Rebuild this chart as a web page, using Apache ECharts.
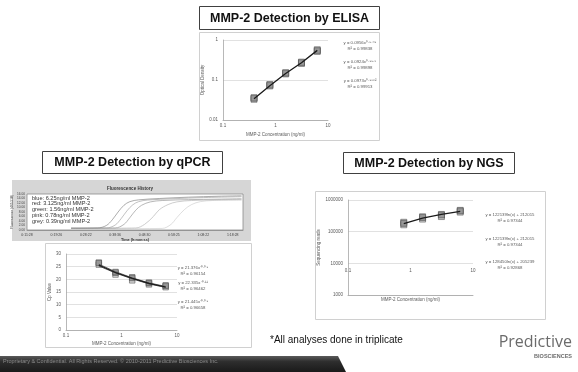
<!DOCTYPE html>
<html>
<head>
<meta charset="utf-8">
<script src="https://cdn.jsdelivr.net/npm/echarts@6/dist/echarts.min.js"></script>
<style>
  html, body { margin: 0; padding: 0; background: #fff; }
  #chart { width: 578px; height: 372px; }
</style>
</head>
<body>
<div id="chart"></div>
<script>
// concentrations of the MMP-2 dilution series (ng/ml)
const concentrations = [0.39, 0.78, 1.56, 3.125, 6.25];
const ngsConcentrations = [0.78, 1.56, 3.125, 6.25];

// ELISA optical density, three replicates + trendline
const elisaRep1 = [0.035, 0.074, 0.148, 0.27, 0.54];
const elisaRep2 = [0.033, 0.071, 0.142, 0.26, 0.52];
const elisaRep3 = [0.036, 0.077, 0.152, 0.28, 0.57];
const elisaTrend = [0.034, 0.072, 0.146, 0.27, 0.55];

// qPCR Cp values
const cpRep1 = [26.4, 22.9, 20.5, 18.5, 17.4];
const cpRep2 = [25.8, 21.9, 19.6, 18.0, 16.9];
const cpRep3 = [26.6, 22.6, 20.8, 18.7, 17.6];
const cpTrendA = [26.0, 23.0, 20.6, 18.6, 17.2];
const cpTrendB = [25.3, 22.5, 20.2, 18.2, 16.8];
const cpTrendC = [25.7, 22.7, 20.4, 18.4, 17.0];

// NGS sequencing reads
const ngsRep1 = [182000, 278000, 335000, 450000];
const ngsRep2 = [165000, 250000, 300000, 415000];
const ngsRep3 = [198000, 295000, 350000, 470000];
const ngsTrend = [180000, 268000, 350000, 440000];

// qPCR amplification curves: [time step, fluorescence]
const ampBlue = [[1.5, 0.8], [2.4, 0.9], [2.7, 2.0], [2.9, 4.5], [3.1, 8], [3.3, 11], [3.5, 12.6], [3.8, 13.4], [4.5, 14.0], [5.5, 14.6], [6.5, 15.0], [7.3, 15.2]];
const ampRed = [[1.5, 0.8], [2.7, 0.9], [3.0, 2.2], [3.2, 5], [3.4, 8.5], [3.6, 11.2], [3.8, 12.6], [4.1, 13.3], [5.0, 13.9], [6.0, 14.4], [7.3, 14.8]];
const ampGreen = [[1.5, 0.8], [3.0, 0.9], [3.3, 2.5], [3.5, 5.5], [3.7, 8.8], [3.9, 11], [4.2, 12.5], [4.6, 13.1], [5.5, 13.5], [6.5, 13.7], [7.3, 13.9]];
const ampPink = [[1.5, 0.7], [3.7, 0.9], [4.0, 2.5], [4.3, 6], [4.5, 9], [4.8, 11.3], [5.1, 12.5], [5.6, 13.1], [6.5, 13.4], [7.3, 13.5]];
const ampGrey = [[1.5, 0.5], [4.6, 0.7], [4.9, 2.5], [5.1, 5.5], [5.35, 9], [5.6, 11.3], [5.9, 12.6], [6.3, 13.1], [7.3, 13.3]];
const ampLegend = ['blue: 6.25ng/ml MMP-2', 'red: 3.125ng/ml MMP-2', 'green: 1.56ng/ml MMP-2', 'pink: 0.78ng/ml MMP-2', 'grey: 0.39ng/ml MMP-2'];

// tick labels
const logXTicks = ['0.1', '1', '10'];
const elisaYTicks = ['0.01', '0.1', '1'];
const ngsYTicks = ['1000', '10000', '100000', '1000000'];
const ampTimeTicks = ['0:11:28', '0:19:26', '0:28:22', '0:38:36', '0:48:30', '0:58:25', '1:08:22', '1:18:28'];

// trendline equations
const elisaEquations = [['y = 0.0956x⁰·⁹⁷⁴⁹', 'R² = 0.99838'], ['y = 0.0924x⁰·⁹⁹⁷⁵', 'R² = 0.99898'], ['y = 0.0973x⁰·⁹⁸⁶²', 'R² = 0.99913']];
const cpEquations = [['y = 21.376x⁻⁰·⁰⁹', 'R² = 0.96154'], ['y = 22.335x⁻⁰·¹¹', 'R² = 0.96462'], ['y = 21.445x⁻⁰·⁰⁹', 'R² = 0.96658']];
const ngsEquations = [['y = 122139ln(x) + 212015', 'R² = 0.97344'], ['y = 122139ln(x) + 212015', 'R² = 0.97344'], ['y = 128450ln(x) + 205239', 'R² = 0.92868']];

const FONT = '"Liberation Sans", Arial, sans-serif';
const pair = (xs, ys) => xs.map((x, i) => [x, ys[i]]);
const logLabel = (labels, minExp) => v => labels[Math.round(Math.log10(v)) - minExp] || '';
const tiny = { fontSize: 4.5, color: '#595959', fontFamily: FONT };
const axisLine = { lineStyle: { color: '#a6a6a6', width: 0.8 } };
const gridLine = { lineStyle: { color: '#d9d9d9', width: 0.8 } };

function logX(gridIndex, extra) {
  return Object.assign({
    gridIndex, type: 'log', logBase: 10, min: 0.1, max: 10,
    axisLine, axisTick: { show: false }, splitLine: { show: false },
    axisLabel: Object.assign({ margin: 3, formatter: logLabel(logXTicks, -1) }, tiny),
    name: 'MMP-2 Concentration (ng/ml)', nameLocation: 'middle', nameGap: 12,
    nameTextStyle: tiny,
  }, extra || {});
}

function scatter(name, xi, data, fill, size) {
  return {
    name, type: 'scatter', xAxisIndex: xi, yAxisIndex: xi, data,
    symbol: 'rect', symbolSize: size,
    itemStyle: { color: fill, borderColor: '#4d4d4d', borderWidth: 0.7 },
    z: 2,
  };
}

function trend(xi, data, color, width) {
  return {
    type: 'line', xAxisIndex: xi, yAxisIndex: xi, data, symbol: 'none',
    lineStyle: { color, width }, z: 3,
  };
}

function ampCurve(data, color) {
  return {
    type: 'line', xAxisIndex: 1, yAxisIndex: 1, data, symbol: 'none', smooth: 0.35,
    lineStyle: { color, width: 0.7 },
  };
}

function titleBox(x, y, w, h, text) {
  return [
    { type: 'rect', shape: { x, y, width: w, height: h }, style: { fill: '#fff', stroke: '#404040', lineWidth: 1 }, z: 5 },
    { type: 'text', style: { text, x: x + w / 2, y: y + h / 2 + 0.5, align: 'center', verticalAlign: 'middle', fontSize: 12.5, fontWeight: 'bold', fontFamily: FONT, fill: '#111' }, z: 6 },
  ];
}

function frame(x, y, w, h) {
  return { type: 'rect', shape: { x, y, width: w, height: h }, style: { fill: '#fff', stroke: '#d0d0d0', lineWidth: 1 }, z: -10 };
}

function equations(list, cx, ys, gap) {
  const out = [];
  list.forEach((eq, i) => {
    eq.forEach((line, j) => {
      out.push({ type: 'text', style: { text: line, x: cx, y: ys[i] + j * gap, align: 'center', verticalAlign: 'middle', fontSize: 4.3, fontFamily: FONT, fill: '#595959' }, z: 10 });
    });
  });
  return out;
}

const graphics = [].concat(
  frame(199.5, 32.5, 180, 108),
  frame(45.5, 243.5, 206, 104),
  frame(315.5, 191.5, 230, 128),
  [{ type: 'rect', shape: { x: 12, y: 180, width: 239, height: 61 }, style: { fill: '#d6d6d6' }, z: -10 }],
  titleBox(199.5, 6.5, 180, 23, 'MMP-2 Detection by ELISA'),
  titleBox(42.5, 151.5, 180, 22, 'MMP-2 Detection by qPCR'),
  titleBox(343.5, 152.5, 171, 21, 'MMP-2 Detection by NGS'),
  [{ type: 'text', style: { text: 'Fluorescence History', x: 130, y: 189, align: 'center', verticalAlign: 'middle', fontSize: 4.5, fontWeight: 'bold', fontFamily: FONT, fill: '#333' }, z: 10 }],
  ampLegend.map((t, i) => ({ type: 'text', style: { text: t, x: 32, y: 198 + i * 5.8, align: 'left', verticalAlign: 'middle', fontSize: 5.6, fontFamily: FONT, fill: '#333' }, z: 10 })),
  equations(elisaEquations, 360, [43, 62, 81], 6),
  equations(cpEquations, 193, [268, 283, 302], 5.5),
  equations(ngsEquations, 510, [215, 239, 262], 6),
  [
    { type: 'text', style: { text: '*All analyses done in triplicate', x: 270, y: 340, align: 'left', verticalAlign: 'middle', fontSize: 10, fontFamily: FONT, fill: '#111' }, z: 10 },
    { type: 'text', style: { text: 'Predictive', x: 572, y: 342, align: 'right', verticalAlign: 'middle', fontSize: 16, fontFamily: '"Open Sans", sans-serif', fill: '#6b6b6b' }, z: 10 },
    { type: 'text', style: { text: 'BIOSCIENCES', x: 572, y: 356, align: 'right', verticalAlign: 'middle', fontSize: 5.5, fontWeight: 'bold', fontFamily: FONT, fill: '#6b6b6b' }, z: 10 },
    {
      type: 'polygon', shape: { points: [[0, 356], [338, 356], [346, 372], [0, 372]] },
      style: { fill: new echarts.graphic.LinearGradient(0, 0, 0, 1, [{ offset: 0, color: '#5a5a5a' }, { offset: 0.35, color: '#2e2e2e' }, { offset: 1, color: '#1a1a1a' }]) },
      z: 8,
    },
    { type: 'text', style: { text: 'Proprietary & Confidential. All Rights Reserved. © 2010-2011 Predictive Biosciences Inc.', x: 3, y: 361, align: 'left', verticalAlign: 'middle', fontSize: 5.5, fontFamily: FONT, fill: '#8a8a8a' }, z: 10 },
  ]
);

const chart = echarts.init(document.getElementById('chart'), null, { renderer: 'canvas' });

chart.setOption({
  animation: false,
  backgroundColor: '#fff',
  grid: [
    { left: 223, top: 40, width: 105, height: 80, outerBoundsMode: 'none' },
    { left: 27, top: 194, width: 216, height: 36, show: true, backgroundColor: '#fff', borderColor: '#8c8c8c', borderWidth: 0.8, outerBoundsMode: 'none' },
    { left: 66, top: 254, width: 111, height: 76, outerBoundsMode: 'none' },
    { left: 348, top: 200, width: 125, height: 95, outerBoundsMode: 'none' },
  ],
  xAxis: [
    logX(0, { nameGap: 12 }),
    {
      gridIndex: 1, type: 'value', min: 0, max: 7.35, interval: 1,
      axisLine: { lineStyle: { color: '#8c8c8c', width: 0.8 } }, axisTick: { show: false }, splitLine: { show: false },
      axisLabel: { fontSize: 3.5, color: '#404040', margin: 3, fontFamily: FONT, formatter: v => Number.isInteger(v) ? ampTimeTicks[v] : '' },
      name: 'Time (h:mm:ss)', nameLocation: 'middle', nameGap: 6,
      nameTextStyle: { fontSize: 3.8, color: '#333', fontWeight: 'bold', fontFamily: FONT },
    },
    logX(2, { nameGap: 11 }),
    logX(3, { nameGap: 2, axisLabel: Object.assign({ margin: -27, formatter: logLabel(logXTicks, -1) }, tiny) }),
  ],
  yAxis: [
    {
      gridIndex: 0, type: 'log', logBase: 10, min: 0.01, max: 1,
      axisLine: Object.assign({ show: true }, axisLine), axisTick: { show: false }, splitLine: gridLine,
      axisLabel: Object.assign({ margin: 5, formatter: logLabel(elisaYTicks, -2) }, tiny),
      name: 'Optical Density', nameLocation: 'middle', nameGap: 15, nameTextStyle: tiny,
    },
    {
      gridIndex: 1, type: 'value', min: 0, max: 16, interval: 2,
      axisLine: { show: false }, axisTick: { show: false }, splitLine: { show: false },
      axisLabel: { fontSize: 3.2, color: '#404040', margin: 2, fontFamily: FONT, formatter: v => v.toFixed(2) },
      name: 'Fluorescence (465-510)', nameLocation: 'middle', nameGap: 10,
      nameTextStyle: { fontSize: 3.2, color: '#333', fontFamily: FONT },
    },
    {
      gridIndex: 2, type: 'value', min: 0, max: 30, interval: 5,
      axisLine: Object.assign({ show: true }, axisLine), axisTick: { show: false }, splitLine: gridLine,
      axisLabel: Object.assign({ margin: 5 }, tiny),
      name: 'Cp Value', nameLocation: 'middle', nameGap: 10, nameTextStyle: tiny,
    },
    {
      gridIndex: 3, type: 'log', logBase: 10, min: 1000, max: 1000000,
      axisLine: Object.assign({ show: true }, axisLine), axisTick: { show: false }, splitLine: gridLine,
      axisLabel: Object.assign({ margin: 5, formatter: logLabel(ngsYTicks, 3) }, tiny),
      name: 'Sequencing reads', nameLocation: 'middle', nameGap: 26, nameTextStyle: tiny,
    },
  ],
  graphic: { elements: graphics },
  series: [
    scatter('ELISA 1', 0, pair(concentrations, elisaRep2), '#d0d0d0', 6),
    scatter('ELISA 2', 0, pair(concentrations, elisaRep3), '#b5b5b5', 6),
    scatter('ELISA 3', 0, pair(concentrations, elisaRep1), '#8f8f8f', 6),
    trend(0, pair(concentrations, elisaTrend), '#1a1a1a', 1.3),

    ampCurve(ampGrey, '#d0d0d0'),
    ampCurve(ampPink, '#b8b8b8'),
    ampCurve(ampGreen, '#9a9a9a'),
    ampCurve(ampRed, '#a8a8a8'),
    ampCurve(ampBlue, '#8a8a8a'),

    scatter('Cp 2', 2, pair(concentrations, cpRep2), '#d0d0d0', 5.5),
    scatter('Cp 3', 2, pair(concentrations, cpRep3), '#b5b5b5', 5.5),
    scatter('Cp 1', 2, pair(concentrations, cpRep1), '#8f8f8f', 5.5),
    trend(2, pair(concentrations, cpTrendA), '#595959', 0.9),
    trend(2, pair(concentrations, cpTrendB), '#404040', 0.9),
    trend(2, pair(concentrations, cpTrendC), '#1a1a1a', 1.1),

    scatter('NGS 2', 3, pair(ngsConcentrations, ngsRep2), '#d0d0d0', 6),
    scatter('NGS 3', 3, pair(ngsConcentrations, ngsRep3), '#b5b5b5', 6),
    scatter('NGS 1', 3, pair(ngsConcentrations, ngsRep1), '#8f8f8f', 6),
    trend(3, pair(ngsConcentrations, ngsTrend), '#1a1a1a', 1.3),
  ],
});
</script>
</body>
</html>
